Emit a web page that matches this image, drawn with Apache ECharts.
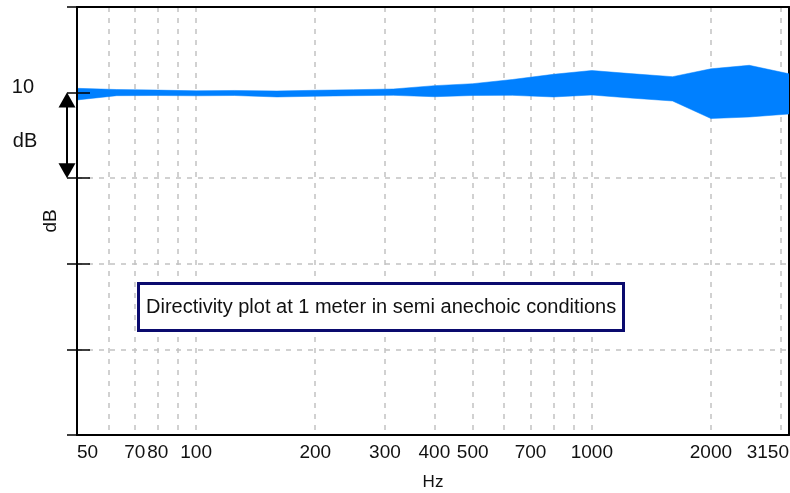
<!DOCTYPE html>
<html>
<head>
<meta charset="utf-8">
<script src="https://cdn.jsdelivr.net/npm/echarts@6/dist/echarts.min.js"></script>
<style>
  html, body { margin: 0; padding: 0; background: #fff; }
  #chart { width: 790px; height: 493px; }
</style>
</head>
<body>
<div id="chart"></div>
<script>
// One-third-octave band centres (Hz)
const freqs = [50, 63, 80, 100, 125, 160, 200, 250, 315, 400, 500, 630, 800, 1000, 1250, 1600, 2000, 2500, 3150];
// Upper and lower envelope of the directivity spread (dB, plotted on a 0..50 scale)
const upperDb = [40.50, 40.36, 40.29, 40.21, 40.25, 40.19, 40.27, 40.34, 40.42, 40.81, 41.04, 41.53, 42.14, 42.58, 42.22, 41.86, 42.78, 43.19, 42.20];
const lowerDb = [39.14, 39.64, 39.66, 39.63, 39.66, 39.49, 39.57, 39.64, 39.68, 39.52, 39.66, 39.68, 39.49, 39.72, 39.37, 39.02, 36.97, 37.15, 37.50];

// Frequency axis labels and grid lines
const xLabelFreqs = [50, 70, 80, 100, 200, 300, 400, 500, 700, 1000, 2000, 3150];
const xGridFreqs = [50, 60, 70, 80, 90, 100, 200, 300, 400, 500, 600, 700, 800, 900, 1000, 2000, 3000, 3150];

// Level axis: one labelled division
const yLabelValues = [40];
const yLabelTexts = ['10'];
const yMin = 0, yMax = 50, yStep = 10;

const noteText = 'Directivity plot at 1 meter in semi anechoic conditions';

const FONT = '"Liberation Sans", Arial, sans-serif';
const INK = '#111';

const chart = echarts.init(document.getElementById('chart'), null, { renderer: 'canvas' });

// rows: [frequency, lower, upper]
const bandRows = freqs.map((f, i) => [f, lowerDb[i], upperDb[i]]);

const grid = { left: 77, right: 1, top: 7, bottom: 58, outerBoundsMode: 'none', containLabel: false };

// The spread is one filled polygon: upper edge left to right, lower edge back
function renderBand(params, api) {
  if (params.dataIndexInside !== 0) return null;
  const top = bandRows.map(r => api.coord([r[0], r[2]]));
  const bottom = bandRows.map(r => api.coord([r[0], r[1]])).reverse();
  return {
    type: 'polygon',
    shape: { points: top.concat(bottom) },
    style: { fill: '#0080ff', stroke: '#0080ff', lineWidth: 0.5 }
  };
}

chart.setOption({
  animation: false,
  backgroundColor: '#fff',
  textStyle: { fontFamily: FONT },
  grid: grid,
  title: {
    text: noteText,
    left: 138, top: 283,
    padding: [14, 8],
    borderWidth: 3,
    borderColor: '#0a0a6e',
    backgroundColor: '#fff',
    textStyle: { fontFamily: FONT, fontSize: 20, fontWeight: 'normal', color: INK }
  },
  xAxis: [{
    type: 'log', logBase: 10, min: 50, max: 3150,
    name: 'Hz', nameLocation: 'middle', nameGap: 39,
    nameTextStyle: { fontFamily: FONT, fontSize: 17, color: INK },
    axisLine: { show: true, onZero: false, lineStyle: { color: '#000', width: 2 } },
    axisTick: { show: false, customValues: xGridFreqs },
    splitLine: { show: true, lineStyle: { color: '#c2c2c2', width: 1.5, type: [5, 6] } },
    minorTick: { show: false }, minorSplitLine: { show: false },
    axisLabel: {
      customValues: xLabelFreqs,
      fontFamily: FONT, fontSize: 19, color: INK, margin: 8,
      alignMinLabel: 'left', alignMaxLabel: 'right',
      formatter: v => String(Math.round(v))
    }
  }, {
    type: 'log', logBase: 10, min: 50, max: 3150, position: 'top',
    axisLine: { show: true, onZero: false, lineStyle: { color: '#000', width: 2 } },
    axisTick: { show: false }, axisLabel: { show: false }, splitLine: { show: false }
  }],
  yAxis: [{
    type: 'value', min: yMin, max: yMax, interval: yStep,
    axisLine: { show: false },
    axisTick: { show: true, inside: false, length: 10, lineStyle: { color: '#000', width: 1.5 } },
    splitLine: { show: true, lineStyle: { color: '#c2c2c2', width: 1.5, type: [5, 6] } },
    axisLabel: {
      customValues: yLabelValues,
      fontFamily: FONT, fontSize: 20, color: INK, margin: 43,
      verticalAlign: 'bottom', lineHeight: 10,
      formatter: v => yLabelTexts[yLabelValues.indexOf(v)] || ''
    }
  }, {
    // overlay axis: left frame line, axis name and inner tick stubs, drawn above the band
    type: 'value', min: yMin, max: yMax, interval: yStep, position: 'left', offset: 0, z: 5,
    name: 'dB', nameLocation: 'middle', nameGap: 17, nameRotate: 90,
    nameTextStyle: { fontFamily: FONT, fontSize: 19, color: INK },
    axisLine: { show: true, onZero: false, lineStyle: { color: '#000', width: 2 } },
    axisTick: { show: true, inside: true, length: 13, lineStyle: { color: '#000', width: 1.5 } },
    axisLabel: { show: false }, splitLine: { show: false }
  }, {
    type: 'value', min: yMin, max: yMax, interval: yStep, position: 'right', offset: 0,
    axisLine: { show: true, onZero: false, lineStyle: { color: '#000', width: 2 } },
    axisTick: { show: false }, axisLabel: { show: false }, splitLine: { show: false }
  }],
  series: [{
    name: 'spread', type: 'custom', renderItem: renderBand,
    xAxisIndex: 0, yAxisIndex: 0,
    encode: { x: 0, y: [1, 2] },
    data: bandRows, silent: true, clip: true
  }]
});

// Double-headed scale arrow spanning one labelled division
function drawScaleArrow() {
  const yTop = chart.convertToPixel({ yAxisIndex: 0 }, yLabelValues[0]);
  const yBot = chart.convertToPixel({ yAxisIndex: 0 }, yLabelValues[0] - yStep);
  const x = grid.left - 10;
  const headH = 15, headW = 8.5;
  chart.setOption({
    graphic: [
      { type: 'line', z: 10, shape: { x1: x, y1: yTop + headH - 1, x2: x, y2: yBot - headH + 1 },
        style: { stroke: '#000', lineWidth: 2 } },
      { type: 'polygon', z: 10, shape: { points: [[x, yTop], [x - headW, yTop + headH], [x + headW, yTop + headH]] },
        style: { fill: '#000' } },
      { type: 'polygon', z: 10, shape: { points: [[x, yBot], [x - headW, yBot - headH], [x + headW, yBot - headH]] },
        style: { fill: '#000' } },
      { type: 'text', z: 10, x: 25, y: (yTop + yBot) / 2 + 6,
        style: { text: 'dB', fill: INK, font: '20px ' + FONT, textAlign: 'center', textVerticalAlign: 'middle' } }
    ]
  });
}
drawScaleArrow();
</script>
</body>
</html>
